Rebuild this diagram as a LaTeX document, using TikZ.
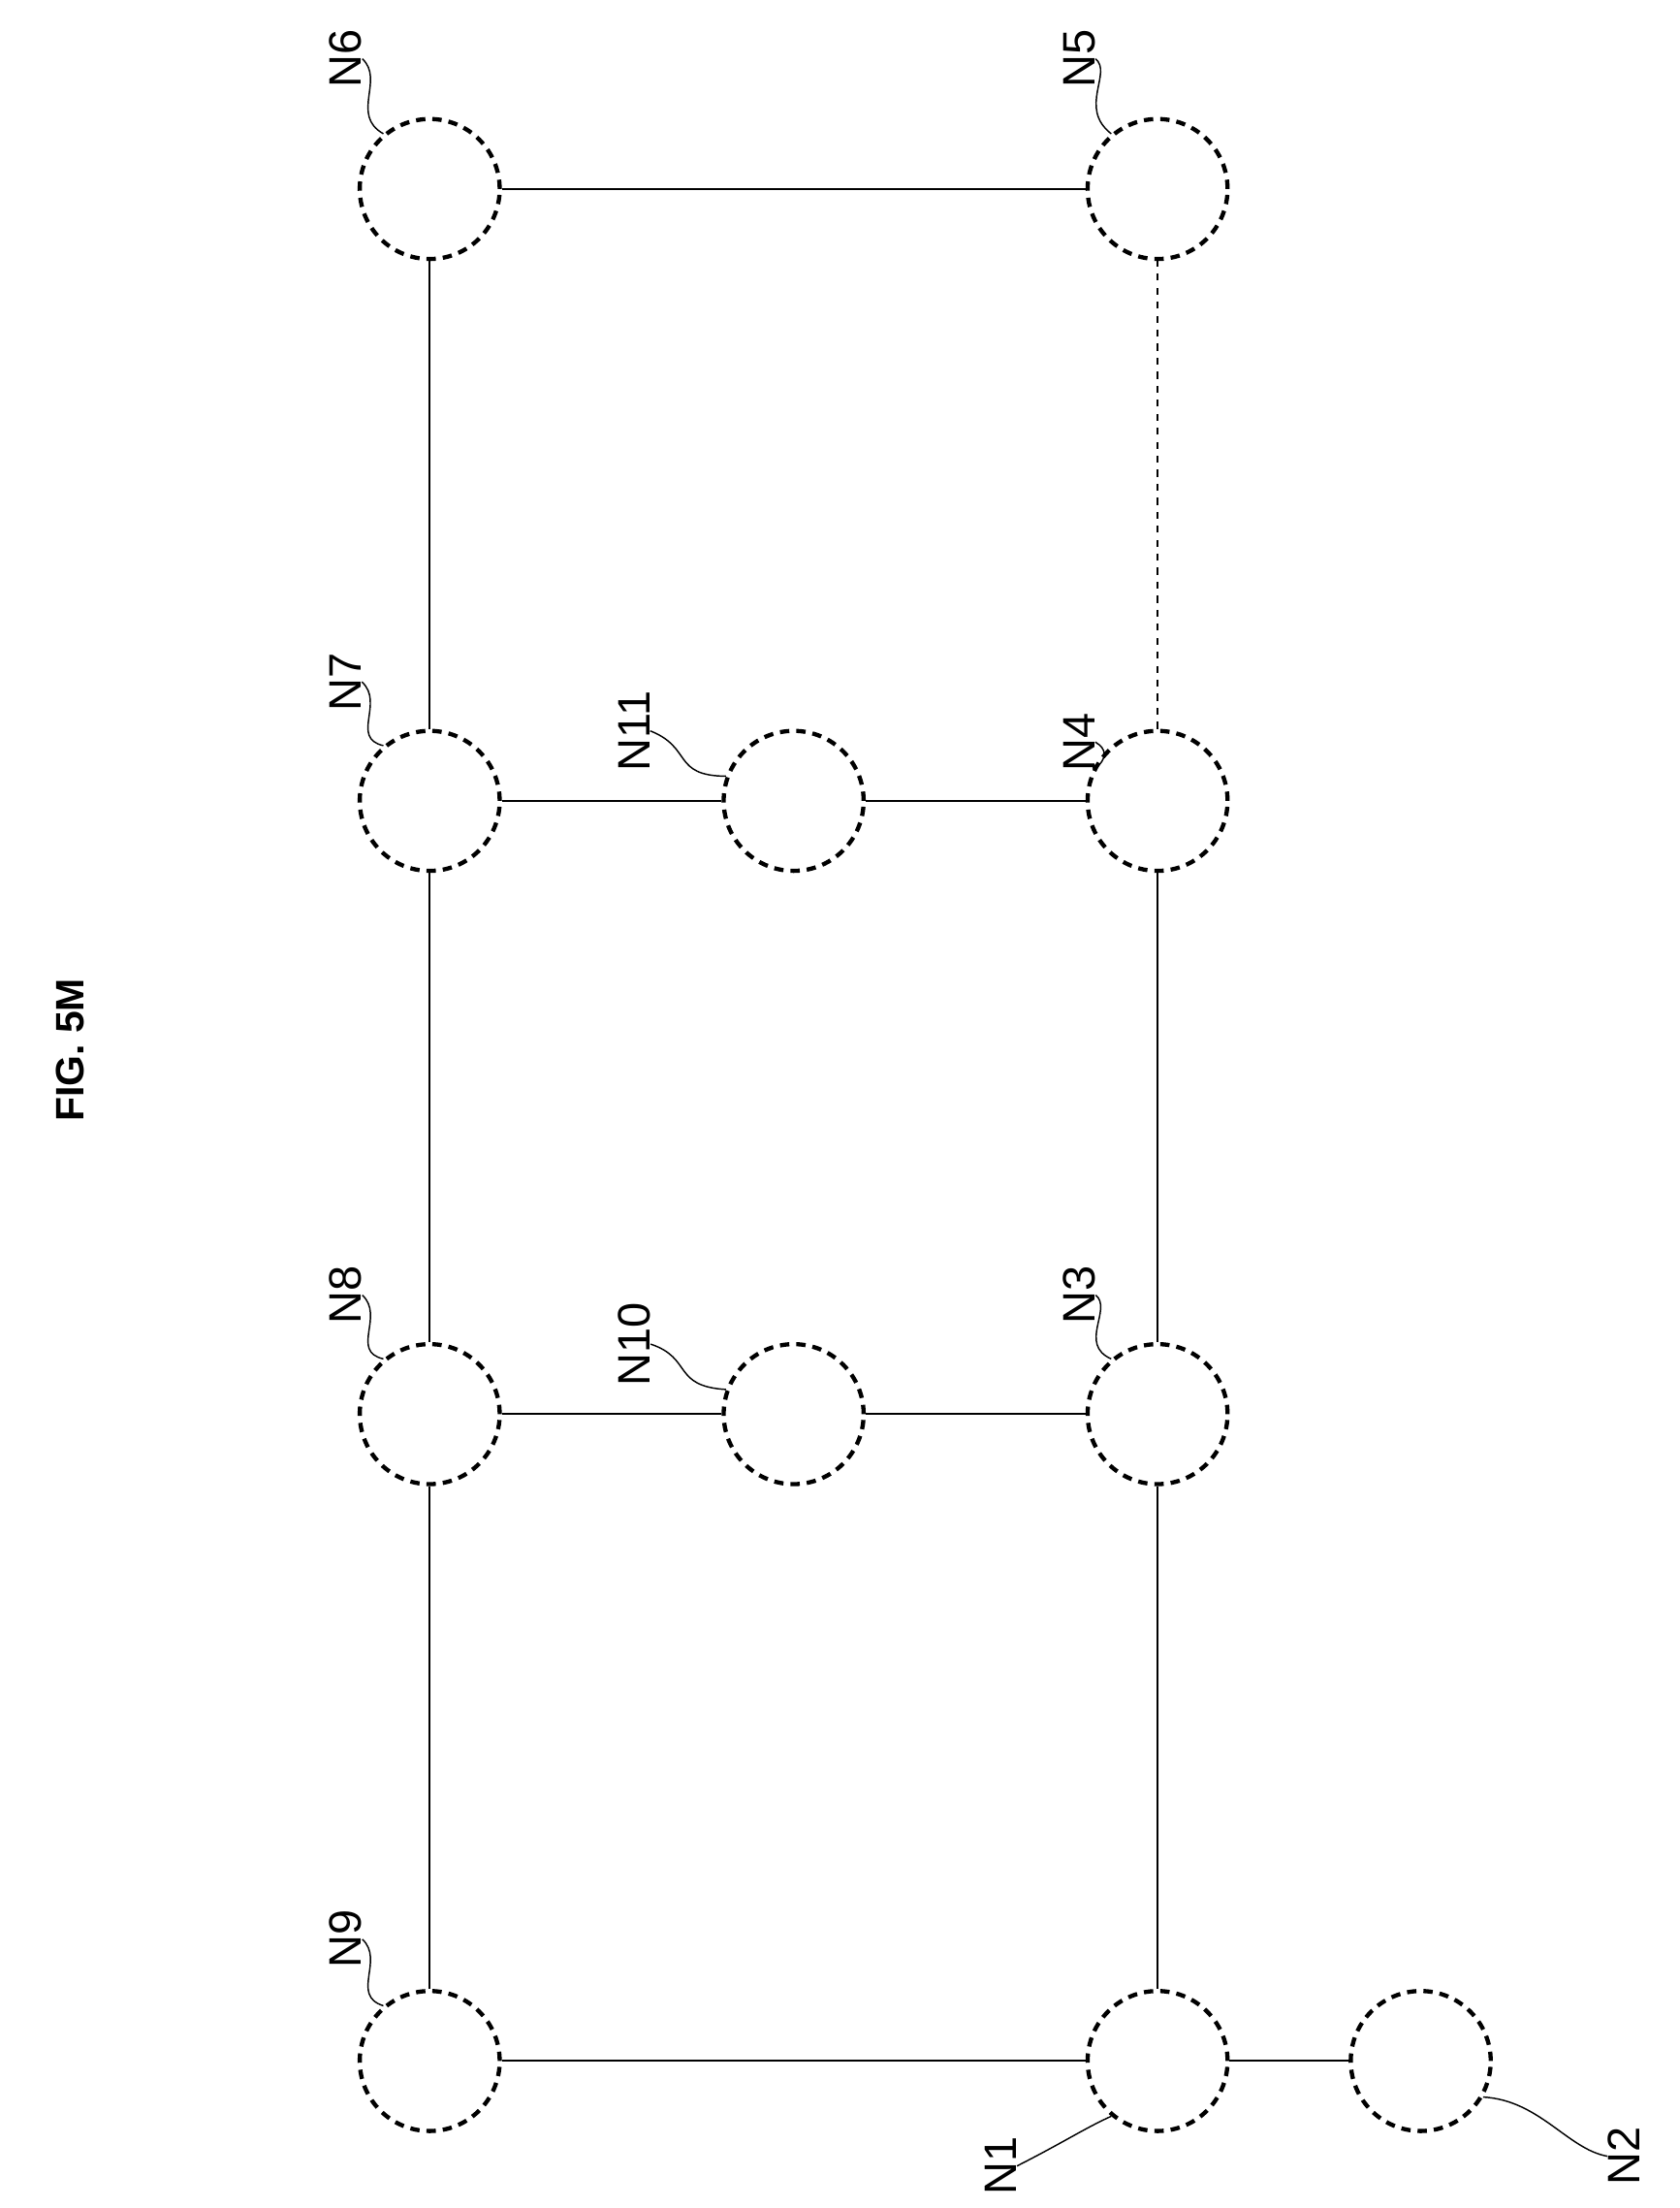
\documentclass[tikz,border=0pt]{standalone}
\usepackage{fontspec}
\setmainfont{Liberation Sans}
\begin{document}
\begin{tikzpicture}[x=0.6pt,y=-0.6pt,
 nd/.style={circle,draw,dashed,line width=1.8pt,minimum size=60pt,inner sep=0pt,dash pattern=on 4pt off 3pt},
 lb/.style={rotate=90,font=\fontsize{19.5}{20}\selectfont,inner sep=0pt},
 ed/.style={line width=0.8pt},
 ld/.style={line width=0.6pt}]
\useasboundingbox (0,0) rectangle (1200,1577);
\node[rotate=90,font=\bfseries\fontsize{17}{17}\selectfont] (fig) at (50,750) {FIG. 5M};
\node[nd] (N9) at (307,1472) {};
\node[nd] (N1) at (827,1472) {};
\node[nd] (N2) at (1015,1472) {};
\node[nd] (N8) at (307,1010) {};
\node[nd] (N10) at (567,1010) {};
\node[nd] (N3) at (827,1010) {};
\node[nd] (N7) at (307,572) {};
\node[nd] (N11) at (567,572) {};
\node[nd] (N4) at (827,572) {};
\node[nd] (N6) at (307,135) {};
\node[nd] (N5) at (827,135) {};
\draw[ed] (N9)--(N1); \draw[ed] (N1)--(N2);
\draw[ed] (N9)--(N8); \draw[ed] (N8)--(N7); \draw[ed] (N7)--(N6);
\draw[ed] (N1)--(N3); \draw[ed] (N3)--(N4);
\draw[ed,dashed] (N4)--(N5);
\draw[ed] (N6)--(N5);
\draw[ed] (N8)--(N10); \draw[ed] (N10)--(N3);
\draw[ed] (N7)--(N11); \draw[ed] (N11)--(N4);
% labels
\node[lb] (l9) at (247,1385) {N9};
\node[lb] (l6) at (247,42) {N6};
\node[lb] (l8) at (247,925) {N8};
\node[lb] (l7) at (247,487) {N7};
\node[lb] (l10) at (453,960) {N10};
\node[lb] (l11) at (453,522) {N11};
\node[lb] (l3) at (771,925) {N3};
\node[lb] (l4) at (771,530) {N4};
\node[lb] (l5) at (771,42) {N5};
\node[lb] (l1) at (715,1547) {N1};
\node[lb] (l2) at (1160,1540) {N2};
\draw[ld] (l9.south) .. controls (275,1400) and (250,1425) .. (N9.130);
\draw[ld] (l6.south) .. controls (275,57) and (250,82) .. (N6.130);
\draw[ld] (l8.south) .. controls (275,940) and (250,965) .. (N8.130);
\draw[ld] (l7.south) .. controls (275,502) and (250,527) .. (N7.130);
\draw[ld] (l10.south) .. controls (495,970) and (480,990) .. (N10.160);
\draw[ld] (l11.south) .. controls (495,534) and (480,554) .. (N11.160);
\draw[ld] (l3.south) .. controls (795,935) and (770,960) .. (N3.130);
\draw[ld] (l4.south) .. controls (800,540) and (775,555) .. (N4.150);
\draw[ld] (l5.south) .. controls (795,52) and (770,77) .. (N5.130);
\draw[ld] (l1.south) .. controls (760,1530) and (775,1520) .. (N1.230);
\draw[ld] (N2.330) .. controls (1100,1500) and (1120,1535) .. (l2.north);
\end{tikzpicture}
\end{document}
